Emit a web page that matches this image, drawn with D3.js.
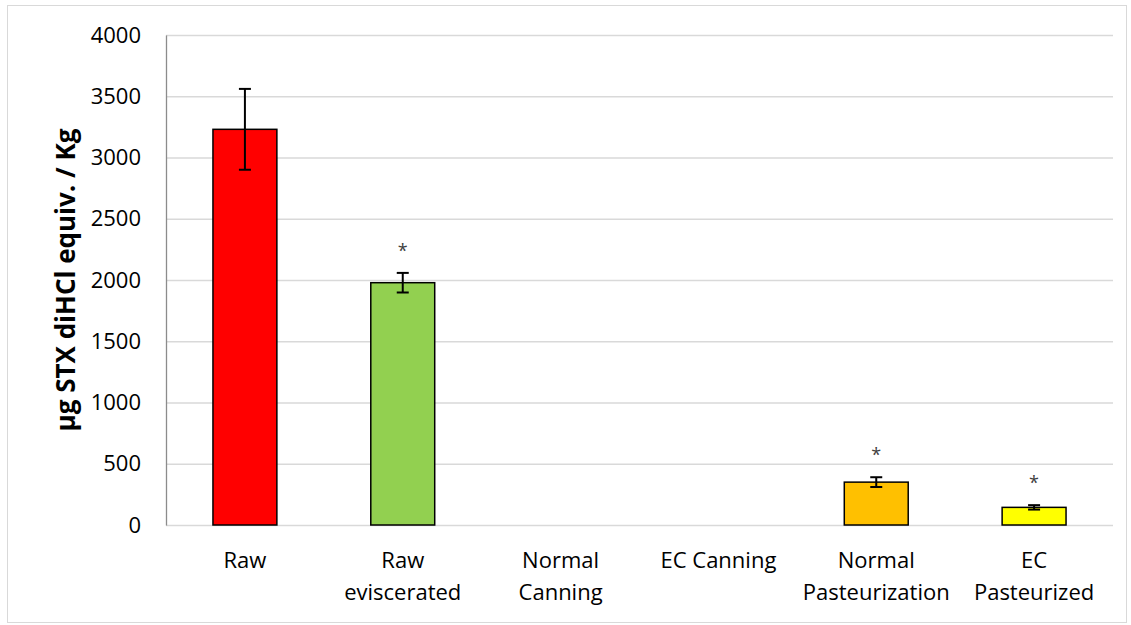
<!DOCTYPE html>
<html>
<head>
<meta charset="utf-8">
<script src="https://cdn.jsdelivr.net/npm/d3@7"></script>
<style>
  html, body { margin: 0; padding: 0; background: #fff; }
  svg { display: block; font-family: "Open Sans", sans-serif; }
</style>
</head>
<body>
<svg id="chart" width="1131" height="625"></svg>
<script>
// Toxin content per processing step (µg STX diHCl equiv. / Kg)
const categories = ["Raw", "Raw eviscerated", "Normal Canning", "EC Canning", "Normal Pasteurization", "EC Pasteurized"];
const labelLines = [["Raw"], ["Raw", "eviscerated"], ["Normal", "Canning"], ["EC Canning"], ["Normal", "Pasteurization"], ["EC", "Pasteurized"]];
const values = [3230, 1978, null, null, 350, 144];
const errors = [330, 80, null, null, 40, 18];
const significant = [false, true, false, false, true, true];
const colors = ["#FF0000", "#92D050", "#FFC000", "#FFC000", "#FFC000", "#FFFF00"];
const yTicks = [0, 500, 1000, 1500, 2000, 2500, 3000, 3500, 4000];

const svg = d3.select("#chart");
const W = 1131, H = 625;
const m = { left: 166, right: 18, top: 35, bottom: 100 };

// outer frame
svg.append("rect")
  .attr("x", 7.5).attr("y", 5.5)
  .attr("width", W - 12).attr("height", H - 8)
  .attr("fill", "#fff").attr("stroke", "#d9d9d9").attr("stroke-width", 1);

const x = d3.scaleBand().domain(categories).range([m.left, W - m.right]).paddingInner(0.595).paddingOuter(0.2975);
const y = d3.scaleLinear().domain([0, 4000]).range([H - m.bottom, m.top]);

// horizontal gridlines
svg.append("g")
  .selectAll("line").data(yTicks).join("line")
  .attr("x1", m.left).attr("x2", W - m.right)
  .attr("y1", d => y(d) + 0.5).attr("y2", d => y(d) + 0.5)
  .attr("stroke", "#d9d9d9").attr("stroke-width", 1.3);

// y axis
const yAxis = svg.append("g")
  .attr("transform", `translate(${m.left},0)`)
  .call(d3.axisLeft(y).tickValues(yTicks).tickFormat(d3.format("d")).tickSize(0).tickPadding(25));
yAxis.select(".domain").attr("stroke", "#8c8c8c").attr("stroke-width", 1.3);
yAxis.selectAll("text").attr("font-size", 22).attr("fill", "#000").attr("font-family", "Open Sans, sans-serif");

// x axis labels
const xAxis = svg.append("g")
  .attr("transform", `translate(0,${H - m.bottom})`)
  .call(d3.axisBottom(x).tickSize(0).tickFormat(""));
xAxis.select(".domain").remove();
xAxis.selectAll(".tick").each(function (d, i) {
  const t = d3.select(this).append("text")
    .attr("fill", "#000").attr("font-size", 22)
    .attr("font-family", "Open Sans, sans-serif")
    .attr("text-anchor", "middle");
  labelLines[i].forEach((ln, k) => {
    t.append("tspan").attr("x", 0).attr("y", 43 + k * 32).text(ln);
  });
});

// bars
const rows = categories.map((c, i) => ({ c, v: values[i], e: errors[i], s: significant[i], col: colors[i] }))
  .filter(d => d.v != null);

svg.append("g").selectAll("rect").data(rows).join("rect")
  .attr("x", d => x(d.c)).attr("width", x.bandwidth())
  .attr("y", d => y(d.v)).attr("height", d => y(0) - y(d.v))
  .attr("fill", d => d.col).attr("stroke", "#000").attr("stroke-width", 1.5);

// error bars
const eb = svg.append("g").attr("stroke", "#000").attr("stroke-width", 2);
rows.forEach(d => {
  const cx = x(d.c) + x.bandwidth() / 2;
  eb.append("line").attr("x1", cx).attr("x2", cx).attr("y1", y(d.v + d.e)).attr("y2", y(d.v - d.e));
  [d.v + d.e, d.v - d.e].forEach(v => {
    eb.append("line").attr("x1", cx - 6).attr("x2", cx + 6).attr("y1", y(v)).attr("y2", y(v));
  });
});

// significance markers
svg.append("g").selectAll("text").data(rows.filter(d => d.s)).join("text")
  .attr("x", d => x(d.c) + x.bandwidth() / 2)
  .attr("y", d => y(d.v + d.e) - 16)
  .attr("text-anchor", "middle").attr("font-size", 18).attr("fill", "#404040")
  .text("*");

// y axis title
svg.append("text")
  .attr("transform", `translate(75,${(m.top + H - m.bottom) / 2}) rotate(-90)`)
  .attr("text-anchor", "middle").attr("font-size", 26).attr("font-weight", "bold")
  .attr("fill", "#000")
  .text("µg STX diHCl equiv. / Kg");
</script>
</body>
</html>
